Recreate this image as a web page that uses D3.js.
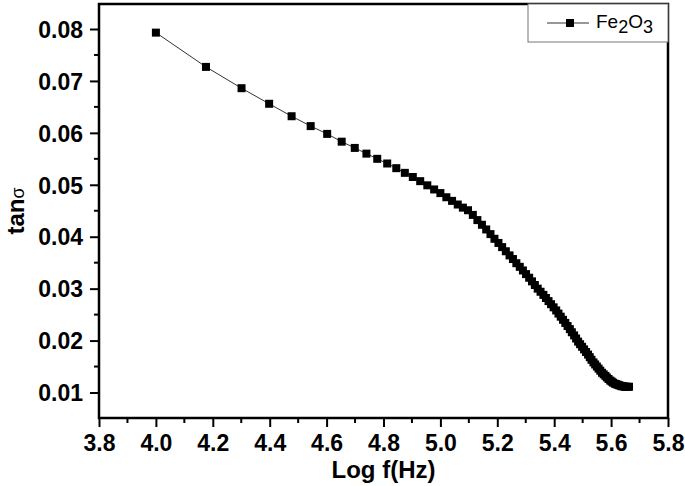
<!DOCTYPE html>
<html><head><meta charset="utf-8">
<script src="https://cdn.jsdelivr.net/npm/d3@7"></script>
<style>body{margin:0;background:#fff}svg{display:block;font-family:"Liberation Sans",Arial,sans-serif}</style>
</head><body><svg id="c" width="685" height="486"></svg>
<script>
const logF = [4.000,4.176,4.301,4.398,4.477,4.544,4.602,4.653,4.699,4.740,4.778,4.813,4.845,4.875,4.903,4.929,4.954,4.978,5.000,5.021,5.041,5.061,5.079,5.097,5.114,5.130,5.146,5.161,5.176,5.190,5.204,5.217,5.230,5.243,5.255,5.267,5.279,5.290,5.301,5.312,5.322,5.332,5.342,5.352,5.362,5.371,5.380,5.389,5.398,5.407,5.415,5.423,5.431,5.439,5.447,5.455,5.462,5.470,5.477,5.484,5.491,5.498,5.505,5.512,5.519,5.525,5.531,5.538,5.544,5.550,5.556,5.562,5.568,5.574,5.580,5.585,5.591,5.597,5.602,5.607,5.613,5.618,5.623,5.628,5.633,5.638,5.643,5.648,5.653,5.658,5.663];
const tanD = [0.0793,0.0727,0.0686,0.0656,0.0632,0.0613,0.0598,0.0583,0.0571,0.0560,0.0550,0.0541,0.0532,0.0523,0.0515,0.0507,0.0499,0.0491,0.0484,0.0476,0.0469,0.0462,0.0456,0.0451,0.0442,0.0432,0.0423,0.0414,0.0405,0.0396,0.0388,0.0380,0.0372,0.0364,0.0357,0.0349,0.0342,0.0335,0.0328,0.0321,0.0314,0.0307,0.0300,0.0294,0.0288,0.0282,0.0276,0.0270,0.0264,0.0258,0.0252,0.0246,0.0240,0.0234,0.0228,0.0222,0.0216,0.0210,0.0204,0.0198,0.0193,0.0188,0.0183,0.0178,0.0173,0.0168,0.0163,0.0158,0.0154,0.0150,0.0146,0.0142,0.0138,0.0135,0.0132,0.0129,0.0126,0.0123,0.0121,0.0119,0.0117,0.0116,0.0115,0.0114,0.0113,0.0112,0.0112,0.0111,0.0111,0.0111,0.0111];
const xTicks = [3.8,4.0,4.2,4.4,4.6,4.8,5.0,5.2,5.4,5.6,5.8];
const yTicks = [0.01,0.02,0.03,0.04,0.05,0.06,0.07,0.08];
const seriesName = "Fe2O3";

const svg = d3.select("#c");
const L=99, R=668, T=4, B=418;
const x = d3.scaleLinear().domain([3.8,5.8]).range([L,R]);
const y = d3.scaleLinear().domain([0.01,0.08]).range([392.5,29]);

// minor ticks
const xMinor = d3.range(3.9,5.8,0.2);
svg.append("g").selectAll("line").data(xMinor).join("line")
  .attr("x1",d=>x(d)).attr("x2",d=>x(d)).attr("y1",B).attr("y2",B+5)
  .attr("stroke","#000").attr("stroke-width",2);
const yMinor = d3.range(0.005,0.085,0.01).filter(v=>y(v)>T && y(v)<B);
svg.append("g").selectAll("line").data(yMinor).join("line")
  .attr("x1",L).attr("x2",L-5).attr("y1",d=>y(d)).attr("y2",d=>y(d))
  .attr("stroke","#000").attr("stroke-width",2);

const xAxis = svg.append("g").attr("transform",`translate(0,${B})`)
  .call(d3.axisBottom(x).tickValues(xTicks).tickFormat(d3.format(".1f")).tickSize(9).tickSizeOuter(0));
const yAxis = svg.append("g").attr("transform",`translate(${L},0)`)
  .call(d3.axisLeft(y).tickValues(yTicks).tickFormat(d3.format(".2f")).tickSize(9).tickSizeOuter(0));
[xAxis,yAxis].forEach(g=>{
  g.select(".domain").remove();
  g.selectAll(".tick line").attr("stroke","#000").attr("stroke-width",2);
  g.selectAll("text").attr("fill","#000").style("font-size","23px").style("font-weight","bold");
});
xAxis.selectAll("text").attr("dy","0").attr("y",33);
yAxis.selectAll("text").attr("x",-16).attr("dy","0.36em");

// frame
svg.append("rect").attr("x",L).attr("y",T).attr("width",R-L).attr("height",B-T)
  .attr("fill","none").attr("stroke","#000").attr("stroke-width",2.5);

// data
const pts = logF.map((v,i)=>[v,tanD[i]]);
svg.append("path").datum(pts)
  .attr("d",d3.line().x(d=>x(d[0])).y(d=>y(d[1])))
  .attr("fill","none").attr("stroke","#333").attr("stroke-width",1);
svg.append("g").selectAll("rect").data(pts).join("rect")
  .attr("x",d=>x(d[0])-4).attr("y",d=>y(d[1])-4).attr("width",8).attr("height",8)
  .attr("fill","#000");

// legend
const lg = svg.append("g");
lg.append("rect").attr("x",528).attr("y",T).attr("width",R-528).attr("height",38)
  .attr("fill","#fff").attr("stroke","#777").attr("stroke-width",1);
lg.append("line").attr("x1",547).attr("x2",589).attr("y1",23).attr("y2",23).attr("stroke","#333").attr("stroke-width",1);
lg.append("rect").attr("x",566).attr("y",19).attr("width",8).attr("height",8).attr("fill","#000");
const lt = lg.append("text").attr("x",596).attr("y",28).style("font-size","19px").attr("fill","#000");
lt.append("tspan").text("Fe");
lt.append("tspan").attr("dy",5).style("font-size","18px").text("2");
lt.append("tspan").attr("dy",-5).text("O");
lt.append("tspan").attr("dy",5).style("font-size","18px").text("3");

// axis titles
svg.append("text").attr("x",(L+R)/2).attr("y",478).attr("text-anchor","middle")
  .style("font-size","24px").style("font-weight","bold").attr("fill","#000").text("Log f(Hz)");
const yt = svg.append("text").attr("transform",`translate(24,${(T+B)/2}) rotate(-90)`)
  .attr("text-anchor","middle").attr("fill","#000");
yt.append("tspan").style("font-size","24px").style("font-weight","bold").text("tan");
yt.append("tspan").style("font-size","18px").text("σ");
</script></body></html>
